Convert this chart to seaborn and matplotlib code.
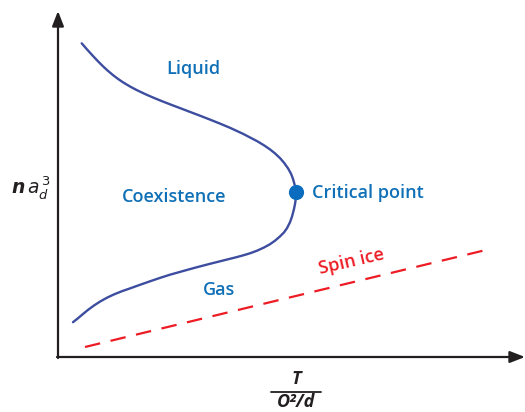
import matplotlib
matplotlib.use("Agg")
import matplotlib.pyplot as plt
import seaborn as sns
import pandas as pd

# Coexistence curve (pixel-like units, y downward)
upper_x = [81.7, 87, 93, 98, 103, 108, 113, 118, 123, 130, 137, 145, 153, 161, 170, 180, 190, 200, 210,
           220, 230, 243, 257, 264, 270, 275, 280, 284, 288, 291, 293, 295, 296]
upper_y = [43.3, 49.4, 56.0, 61.3, 66.3, 70.9, 75.1, 78.9, 82.3, 86.5, 90.2, 94.0, 97.5, 100.8, 104.3,
           108.1, 111.9, 115.7, 119.6, 123.6, 127.8, 133.8, 141.1, 145.3, 149.4, 153.4, 158.1, 162.7,
           168.3, 173.7, 178.9, 186.1, 192.1]
lower_x = [296.5, 296, 295, 294, 292, 290, 287, 284, 280, 275, 270, 264, 257, 250, 243, 236, 228, 220,
           210, 200, 190, 180, 170, 160, 150, 140, 130, 122, 114, 107, 100, 94, 88, 83, 78, 73]
lower_y = [192.5, 197.5, 204.0, 209.0, 216.6, 222.2, 228.2, 232.4, 236.4, 240.7, 244.2, 247.5, 250.7,
           253.3, 255.4, 257.3, 259.3, 261.3, 263.8, 266.4, 269.1, 271.9, 274.7, 277.9, 281.3, 284.8,
           288.4, 291.2, 294.4, 297.7, 301.6, 305.5, 309.9, 314.0, 318.2, 322.2]
crit_x = [296.5]
crit_y = [192.5]
spin_x = [85, 490]
spin_y = [347, 249]

region_labels = ["Liquid", "Coexistence", "Critical point", "Gas"]
region_x = [193, 174, 368, 219]
region_y = [69, 197, 193, 290]

sns.set_style("white")
plt.rcParams['font.family'] = ['Open Sans', 'DejaVu Sans']

fig = plt.figure(figsize=(5.25, 4.12), dpi=100)
ax = fig.add_axes([0, 0, 1, 1])
ax.set_xlim(0, 525)
ax.set_ylim(412, 0)
ax.axis("off")

curve_df = pd.DataFrame({"x": upper_x + lower_x, "y": upper_y + lower_y})
sns.lineplot(data=curve_df, x="x", y="y", sort=False, color="#3d4d9f", lw=1.7, ax=ax, estimator=None)
sns.lineplot(x=spin_x, y=spin_y, sort=False, color="#ed1c24", lw=1.6, ax=ax,
             linestyle=(0, (7, 4.8)), estimator=None)
sns.scatterplot(x=crit_x, y=crit_y, s=120, color="#0a6cbf", edgecolor="none", ax=ax, zorder=5)

# axes arrows
ax.annotate("", xy=(58, 11), xytext=(58, 358),
            arrowprops=dict(arrowstyle="-|>,head_length=0.9,head_width=0.35", color="#231f20", lw=1.6,
                            shrinkA=0, shrinkB=0))
ax.annotate("", xy=(525, 357), xytext=(57, 357),
            arrowprops=dict(arrowstyle="-|>,head_length=0.9,head_width=0.35", color="#231f20", lw=1.6,
                            shrinkA=0, shrinkB=0))

blue = "#0f70b7"
for lab, x, y in zip(region_labels, region_x, region_y):
    ax.text(x, y, lab, color=blue, fontsize=13, fontweight="semibold", ha="center", va="center")

ax.text(351, 262, "Spin ice", color="#ed1c24", fontsize=13, fontweight="semibold",
        ha="center", va="center", rotation=13)

# axis labels
ax.text(31, 187, r"$\boldsymbol{n\,a_d^{\,3}}$", fontsize=13.5, ha="center", va="center", color="#231f20")
ax.text(296, 379, "T", fontsize=13, fontweight="bold", style="italic", ha="center", va="center", color="#231f20")
ax.plot([271, 321], [392, 392], color="#231f20", lw=1.3)
ax.text(296, 402, "O²/d", fontsize=13, fontweight="bold", style="italic", ha="center", va="center", color="#231f20")

fig.savefig("out.png", dpi=100)
